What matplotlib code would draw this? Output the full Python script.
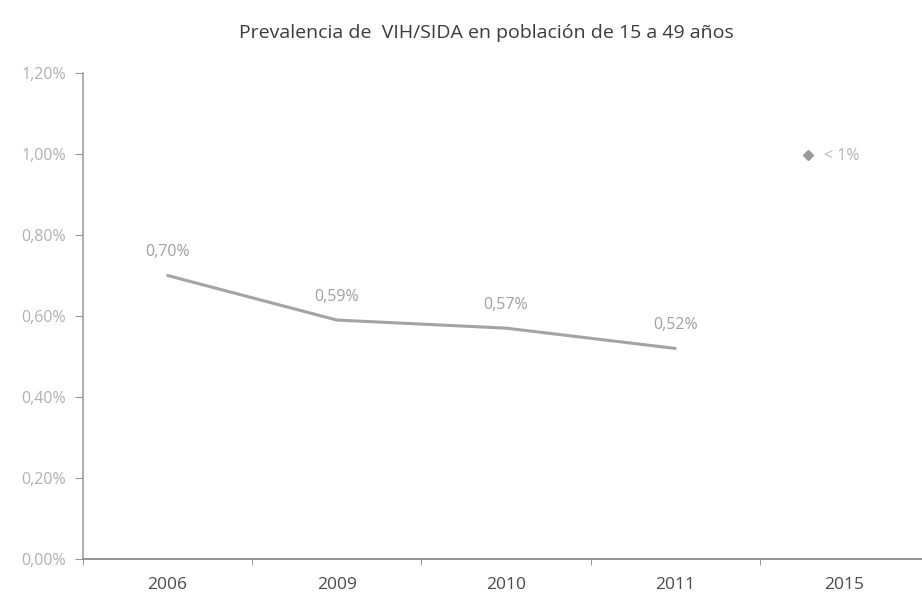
import matplotlib
matplotlib.use('Agg')
import matplotlib.pyplot as plt
from matplotlib.lines import Line2D
from matplotlib.ticker import FuncFormatter

# prevalence series, 15-49 years
years = ['2006', '2009', '2010', '2011', '2015']
prevalence = [0.70, 0.59, 0.57, 0.52]
goal_label = '< 1%'
yticks = [0.0, 0.2, 0.4, 0.6, 0.8, 1.0, 1.2]

plt.rcParams['font.family'] = ['Open Sans', 'DejaVu Sans']

def pct(v, pos=None):
    return ('%.2f%%' % v).replace('.', ',')

fig = plt.figure(figsize=(9.22, 6.0), dpi=100)
ax = fig.add_axes([83/922, 41/600, 846/922, 486/600])

xs = list(range(len(prevalence)))
ax.plot(xs, prevalence, color='#a3a3a3', lw=2.2, solid_capstyle='round')

for x, v in zip(xs, prevalence):
    ax.annotate(pct(v), (x, v), xytext=(0, 11), textcoords='offset points',
                ha='center', va='bottom', fontsize=11.5, color='#a0a0a0')

ax.set_xlim(-0.5, len(years) - 0.5)
ax.set_ylim(0, 1.2)
ax.set_yticks(yticks)
ax.yaxis.set_major_formatter(FuncFormatter(pct))

# category labels centred, ticks on the boundaries
ax.set_xticks(range(len(years)))
ax.set_xticklabels(years)
ax.set_xticks([i + 0.5 for i in range(-1, len(years))], minor=True)
ax.tick_params(axis='x', which='major', length=0, pad=13, labelsize=12.5, labelcolor='#4a4a4a')
ax.tick_params(axis='x', which='minor', length=4, color='#888888', direction='out')
ax.tick_params(axis='y', length=6, color='#999999', pad=6, labelsize=11.5, labelcolor='#b0b0b0')

for s in ['top', 'right']:
    ax.spines[s].set_visible(False)
ax.spines['left'].set_color('#a0a0a0')
ax.spines['bottom'].set_color('#8a8a8a')
ax.spines['left'].set_linewidth(1.2)
ax.spines['bottom'].set_linewidth(1.3)

handle = Line2D([], [], ls='none', marker='D', ms=5, color='#9a9a9a')
ax.legend([handle], [goal_label], loc='upper left', bbox_to_anchor=(0.83, 0.875),
          frameon=False, handletextpad=0.5, handlelength=1.0,
          labelcolor='#b5b5b5', fontsize=11.5)

fig.text(0.528, 0.945, 'Prevalencia de  VIH/SIDA en población de 15 a 49 años',
         ha='center', va='center', fontsize=14, color='#3a3a3a')

fig.savefig('out.png', dpi=100, facecolor='white')
